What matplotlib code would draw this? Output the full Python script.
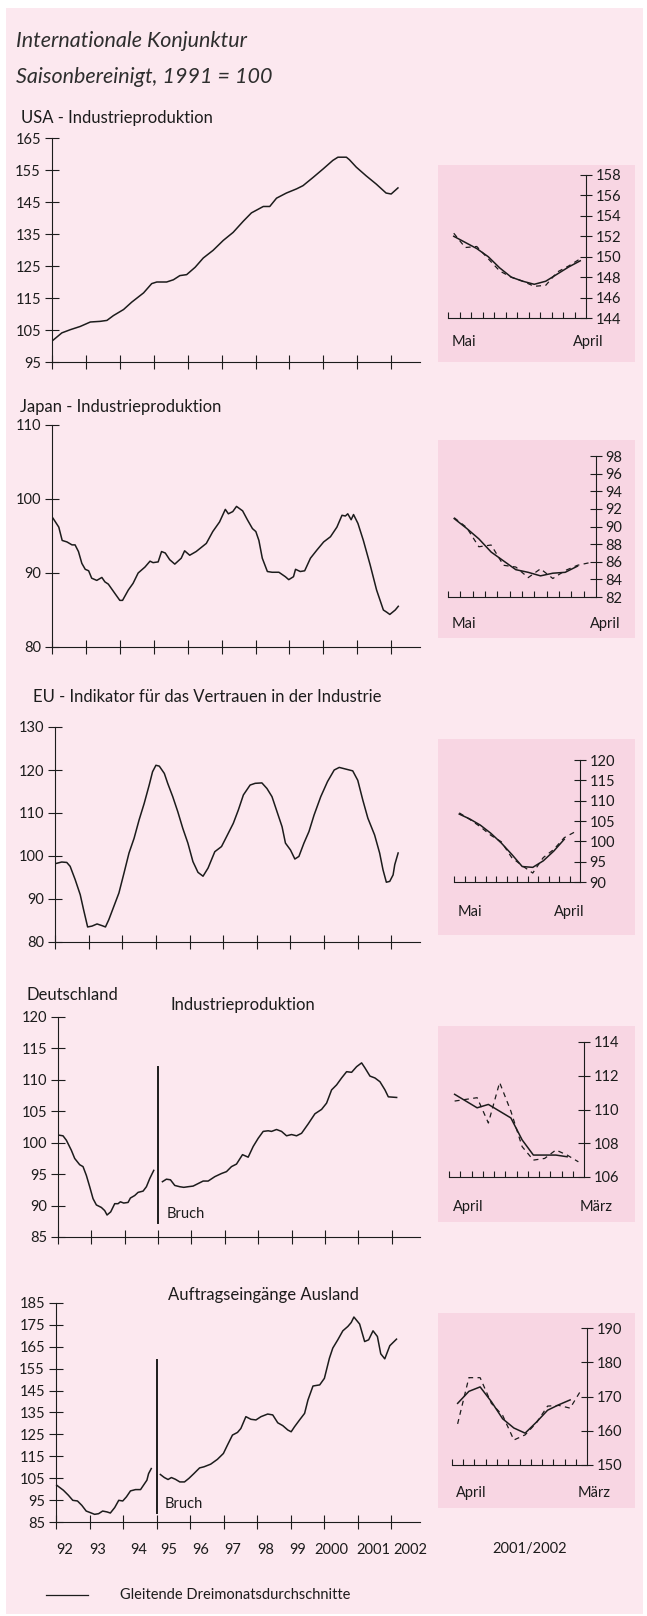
import numpy as np
import matplotlib.pyplot as plt
from matplotlib.patches import Rectangle

plt.rcParams['font.family'] = ['Lato', 'DejaVu Sans']

# ---- Daten (Monatswerte) ----
usa_x = [1992.03, 1992.29, 1992.54, 1992.83, 1993.13, 1993.42, 1993.62, 1993.81, 1994.11, 1994.35,
         1994.70, 1994.94, 1995.09, 1995.38, 1995.58, 1995.77, 1995.97, 1996.22, 1996.46, 1996.75,
         1997.05, 1997.34, 1997.64, 1997.88, 1998.23, 1998.42, 1998.62, 1998.91, 1999.21, 1999.40,
         1999.70, 1999.99, 2000.28, 2000.43, 2000.68, 2000.77, 2000.97, 2001.26, 2001.56, 2001.85,
         2002.00, 2002.20]
usa_y = [101.8, 104.1, 105.1, 106.1, 107.5, 107.7, 108.0, 109.5, 111.4, 113.7,
         116.6, 119.5, 120.0, 120.0, 120.7, 122.0, 122.3, 124.6, 127.5, 129.9,
         133.0, 135.5, 139.0, 141.6, 143.6, 143.6, 146.2, 147.8, 149.1, 150.1,
         152.7, 155.3, 158.0, 159.0, 159.0, 158.2, 155.9, 153.2, 150.6, 147.8,
         147.5, 149.4]

jap_x = [1992.03, 1992.2, 1992.3, 1992.44, 1992.59, 1992.68, 1992.78, 1992.88, 1992.98, 1993.08,
         1993.17, 1993.32, 1993.47, 1993.56, 1993.66, 1993.86, 1994.0, 1994.08, 1994.25, 1994.39,
         1994.54, 1994.74, 1994.89, 1994.98, 1995.13, 1995.23, 1995.34, 1995.47, 1995.62, 1995.81,
         1995.91, 1996.06, 1996.25, 1996.55, 1996.74, 1996.94, 1997.11, 1997.2, 1997.33, 1997.44,
         1997.62, 1997.76, 1997.91, 1998.01, 1998.1, 1998.2, 1998.35, 1998.49, 1998.69, 1998.88,
         1998.98, 1999.12, 1999.18, 1999.32, 1999.45, 1999.62, 1999.81, 2000.01, 2000.21, 2000.4,
         2000.55, 2000.65, 2000.72, 2000.82, 2000.89, 2001.02, 2001.18, 2001.38, 2001.57, 2001.77,
         2001.87, 2001.96, 2002.12, 2002.21]
jap_y = [97.4, 96.2, 94.4, 94.2, 93.8, 93.8, 92.9, 91.3, 90.5, 90.3,
         89.3, 89.0, 89.4, 88.8, 88.5, 87.2, 86.3, 86.3, 87.7, 88.6,
         90.0, 90.8, 91.6, 91.4, 91.5, 92.9, 92.7, 91.8, 91.2, 92.0,
         93.0, 92.4, 92.9, 94.0, 95.6, 96.9, 98.6, 98.0, 98.3, 99.0,
         98.4, 97.2, 96.0, 95.6, 94.4, 92.0, 90.2, 90.1, 90.1, 89.5,
         89.1, 89.5, 90.5, 90.2, 90.3, 92.0, 93.1, 94.2, 94.9, 96.2,
         97.8, 97.7, 98.0, 97.2, 97.9, 96.7, 94.4, 91.1, 87.7, 85.0,
         84.7, 84.4, 85.0, 85.5]

eu_x = [1992.05, 1992.2, 1992.35, 1992.45, 1992.6, 1992.75, 1992.85, 1992.97, 1993.1, 1993.25,
        1993.4, 1993.5, 1993.6, 1993.75, 1993.9, 1994.05, 1994.2, 1994.35, 1994.5, 1994.65,
        1994.8, 1994.9, 1995.0, 1995.1, 1995.25, 1995.35, 1995.5, 1995.65, 1995.8, 1995.95,
        1996.1, 1996.25, 1996.4, 1996.55, 1996.75, 1996.95, 1997.1, 1997.3, 1997.45, 1997.6,
        1997.8, 1997.95, 1998.15, 1998.3, 1998.45, 1998.6, 1998.75, 1998.85, 1999.0, 1999.13,
        1999.25, 1999.4, 1999.55, 1999.7, 1999.9, 2000.1, 2000.3, 2000.45, 2000.65, 2000.85,
        2001.0, 2001.15, 2001.3, 2001.5, 2001.65, 2001.75, 2001.85, 2001.95, 2002.05, 2002.1,
        2002.2]
eu_y = [98.3, 98.6, 98.5, 97.6, 94.5, 91.0, 87.5, 83.5, 83.7, 84.2,
        83.8, 83.5, 85.2, 88.3, 91.4, 96.0, 100.7, 104.1, 108.4, 112.2,
        116.5, 119.6, 121.1, 120.9, 119.2, 116.9, 113.8, 110.3, 106.4, 103.0,
        98.7, 96.2, 95.3, 97.2, 101.0, 102.2, 104.5, 107.6, 110.7, 114.2,
        116.5, 116.9, 117.0, 115.7, 113.8, 110.3, 106.8, 103.0, 101.4, 99.3,
        99.9, 103.0, 105.7, 109.5, 113.8, 117.3, 120.0, 120.6, 120.2, 119.8,
        117.6, 113.0, 108.8, 104.9, 100.7, 96.8, 93.9, 94.1, 95.6, 98.0,
        100.7]

# Deutschland, Industrieproduktion: vor und nach dem Bruch
de1_x = [1992.03, 1992.15, 1992.25, 1992.4, 1992.5, 1992.65, 1992.75, 1992.85, 1992.95, 1993.05,
         1993.15, 1993.3, 1993.4, 1993.47, 1993.58, 1993.7, 1993.8, 1993.87, 1993.97, 1994.1,
         1994.17, 1994.3, 1994.4, 1994.55, 1994.65, 1994.75, 1994.87]
de1_y = [101.2, 101.1, 100.4, 98.8, 97.5, 96.5, 96.2, 94.8, 93.0, 91.1,
         90.1, 89.7, 89.2, 88.5, 89.0, 90.3, 90.3, 90.6, 90.4, 90.5,
         91.2, 91.6, 92.1, 92.3, 93.0, 94.3, 95.6]
de2_x = [1995.13, 1995.25, 1995.37, 1995.5, 1995.65, 1995.77, 1995.9, 1996.05, 1996.2, 1996.35,
         1996.5, 1996.7, 1996.9, 1997.05, 1997.2, 1997.35, 1997.53, 1997.7, 1997.85, 1998.0,
         1998.15, 1998.3, 1998.4, 1998.55, 1998.7, 1998.85, 1999.0, 1999.15, 1999.3, 1999.5,
         1999.7, 1999.9, 2000.05, 2000.2, 2000.35, 2000.5, 2000.65, 2000.8, 2000.95, 2001.1,
         2001.2, 2001.35, 2001.5, 2001.65, 2001.8, 2001.9, 2002.15]
de2_y = [93.8, 94.2, 94.1, 93.2, 93.0, 92.9, 93.0, 93.1, 93.5, 93.9,
         93.9, 94.6, 95.1, 95.4, 96.2, 96.6, 98.1, 97.7, 99.4, 100.7,
         101.8, 101.9, 101.8, 102.1, 101.8, 101.1, 101.3, 101.1, 101.5, 103.0,
         104.6, 105.3, 106.3, 108.4, 109.2, 110.3, 111.3, 111.2, 112.1, 112.7,
         111.9, 110.6, 110.3, 109.7, 108.4, 107.3, 107.2]

# Deutschland, Auftragseingänge Ausland
ae1_x = [1992.02, 1992.22, 1992.37, 1992.5, 1992.64, 1992.77, 1992.9, 1993.02, 1993.15, 1993.27,
         1993.39, 1993.52, 1993.62, 1993.75, 1993.87, 1993.99, 1994.1, 1994.22, 1994.37, 1994.52,
         1994.63, 1994.71, 1994.76, 1994.84]
ae1_y = [101.8, 99.5, 97.2, 94.9, 94.6, 92.6, 90.0, 89.3, 88.5, 88.8,
         90.0, 89.6, 89.1, 91.6, 94.9, 94.6, 96.5, 99.2, 99.8, 99.8,
         102.3, 104.1, 107.1, 109.4]
ae2_x = [1995.11, 1995.23, 1995.34, 1995.44, 1995.56, 1995.69, 1995.83, 1995.96, 1996.11, 1996.28,
         1996.41, 1996.61, 1996.81, 1996.99, 1997.11, 1997.26, 1997.41, 1997.51, 1997.66, 1997.81,
         1997.96, 1998.11, 1998.31, 1998.46, 1998.61, 1998.76, 1998.91, 1999.01, 1999.11, 1999.26,
         1999.41, 1999.51, 1999.66, 1999.86, 2000.0, 2000.15, 2000.25, 2000.4, 2000.55, 2000.7,
         2000.8, 2000.88, 2001.05, 2001.2, 2001.32, 2001.45, 2001.58, 2001.68, 2001.8, 2001.95,
         2002.15]
ae2_y = [106.7, 105.3, 104.4, 105.3, 104.5, 103.3, 103.3, 104.9, 107.1, 109.7,
         110.2, 111.4, 113.6, 116.3, 120.1, 124.7, 125.9, 127.7, 133.1, 131.9,
         131.6, 133.1, 134.3, 133.9, 130.3, 129.0, 127.0, 126.2, 128.5, 131.6,
         134.6, 140.7, 147.1, 147.6, 150.6, 159.8, 164.4, 168.2, 172.3, 174.3,
         176.1, 178.6, 175.4, 167.4, 168.2, 172.3, 169.7, 161.8, 159.5, 165.5,
         168.5]

# Kleine Grafiken 2001/2002: Monatswerte (gestrichelt) und gleitende Dreimonatsdurchschnitte
usa_m = [152.3, 150.9, 151.0, 149.8, 148.6, 148.0, 147.6, 147.1, 147.2, 148.5, 149.1, 149.8]
usa_g = [152.0, 151.4, 150.8, 150.0, 148.9, 148.0, 147.6, 147.3, 147.6, 148.3, 149.0, 149.6]
jap_m = [91.0, 89.9, 87.7, 87.9, 85.6, 85.4, 84.2, 85.2, 84.1, 85.0, 85.6, 85.9]
jap_g = [90.9, 89.8, 88.6, 87.1, 86.1, 85.1, 84.8, 84.4, 84.7, 84.8, 85.5]
eu_m = [107.0, 105.4, 103.6, 101.5, 99.9, 96.0, 94.0, 92.2, 96.0, 98.0, 100.9, 102.3]
eu_g = [106.7, 105.5, 104.0, 102.0, 99.6, 96.8, 93.8, 93.6, 95.2, 97.6, 100.5]
de_m = [110.5, 110.6, 110.7, 109.2, 111.6, 109.9, 107.8, 107.0, 107.1, 107.6, 107.3, 106.9]
de_g = [110.9, 110.5, 110.1, 110.3, 109.9, 109.5, 108.2, 107.3, 107.3, 107.3, 107.2]
ae_m = [162.0, 175.5, 175.5, 168.0, 164.5, 157.3, 158.8, 162.3, 167.2, 167.4, 166.6, 172.0]
ae_g = [168.0, 171.5, 172.8, 168.5, 163.5, 160.8, 159.3, 162.5, 166.0, 167.6, 169.0]

year_labels = ['92', '93', '94', '95', '96', '97', '98', '99', '2000', '2001', '2002']
year_label_pos = [1992.25, 1993.25, 1994.45, 1995.35, 1996.3, 1997.27, 1998.26, 1999.19, 2000.22, 2001.45, 2002.55]

W, H = 647, 1616
BG = '#fce8ef'
INSET_BG = '#f8d6e3'
INK = '#1c1c1c'

fig = plt.figure(figsize=(W / 100, H / 100), dpi=100)
fig.patch.set_facecolor('white')


def frac(l, t, r, b):
    return [l / W, 1 - b / H, (r - l) / W, (b - t) / H]


def ftext(x, y, s, **kw):
    kw.setdefault('color', INK)
    kw.setdefault('va', 'center')
    fig.text(x / W, 1 - y / H, s, **kw)


def rect(l, t, r, b, color):
    fig.patches.append(Rectangle((l / W, 1 - b / H), (r - l) / W, (b - t) / H,
                                 transform=fig.transFigure, color=color, zorder=-10, lw=0))


rect(6, 8, 643, 1614, BG)


def main_panel(box, ylim, yticks, segments, bruch=None):
    ax = fig.add_axes(frac(*box))
    ax.set_facecolor('none')
    ax.set_xlim(1992, 2002.85)
    ax.set_ylim(*ylim)
    for sp in ['top', 'right']:
        ax.spines[sp].set_visible(False)
    for sp in ['left', 'bottom']:
        ax.spines[sp].set_linewidth(0.8)
        ax.spines[sp].set_color(INK)
    ax.set_yticks(yticks)
    ax.set_xticks(range(1992, 2003))
    ax.set_xticklabels([])
    ax.tick_params(direction='inout', length=10, width=0.8, colors=INK, labelsize=10.5, pad=3)
    for xs, ys in segments:
        ax.plot(xs, ys, color=INK, lw=1.1, clip_on=False)
    if bruch:
        ax.plot([1995, 1995], bruch, color=INK, lw=1.4)
        ax.text(1995.25, bruch[1] + 0.04 * (ylim[1] - ylim[0]), 'Bruch', fontsize=10.5,
                color=INK, va='center')
    return ax


def inset(bg, box, ylim, yticks, monthly, avg, lbl_left, lbl_right, lbl_y, lbl_r_x):
    rect(*bg, INSET_BG)
    ax = fig.add_axes(frac(*box))
    ax.set_facecolor('none')
    ax.set_xlim(0, 12)
    ax.set_ylim(*ylim)
    for sp in ['top', 'left']:
        ax.spines[sp].set_visible(False)
    for sp in ['right', 'bottom']:
        ax.spines[sp].set_linewidth(0.8)
        ax.spines[sp].set_color(INK)
    ax.yaxis.tick_right()
    ax.set_yticks(yticks)
    ax.set_xticks(range(12))
    ax.set_xticklabels([])
    ax.tick_params(axis='y', direction='inout', length=8, width=0.8, colors=INK,
                   labelsize=10.5, pad=3)
    ax.tick_params(axis='x', direction='in', length=4, width=0.8, colors=INK)
    ax.plot(np.arange(len(monthly)) + 0.5, monthly, color=INK, lw=0.9, ls=(0, (4, 3.5)))
    ax.plot(np.arange(len(avg)) + 0.5, avg, color=INK, lw=1.1)
    ftext(box[0] + 4, lbl_y, lbl_left, fontsize=10.5)
    ftext(lbl_r_x, lbl_y, lbl_right, fontsize=10.5, ha='right')
    return ax


ftext(16, 41, 'Internationale Konjunktur', fontsize=15.5, style='italic', color='#2e2e2e')
ftext(16, 77, 'Saisonbereinigt, 1991 = 100', fontsize=15.5, style='italic', color='#2e2e2e')

# USA
ftext(21, 118, 'USA - Industrieproduktion', fontsize=12)
main_panel((52, 138, 420, 362), (95, 165), range(95, 166, 10), [(usa_x, usa_y)])
inset((438, 165, 635, 362), (448, 175, 586, 318), (144, 158), range(144, 159, 2),
      usa_m, usa_g, 'Mai', 'April', 342, 603)

# Japan
ftext(20, 407, 'Japan - Industrieproduktion', fontsize=12)
main_panel((52, 425, 420, 647), (80, 110), range(80, 111, 10), [(jap_x, jap_y)])
inset((438, 440, 635, 638), (448, 456, 596, 597), (82, 98), range(82, 99, 2),
      jap_m, jap_g, 'Mai', 'April', 624, 620)

# EU
ftext(33, 697, 'EU - Indikator für das Vertrauen in der Industrie', fontsize=12)
main_panel((55, 727, 420, 942), (80, 130), range(80, 131, 10), [(eu_x, eu_y)])
inset((438, 739, 635, 935), (454, 760, 580, 882), (90, 120), range(90, 121, 5),
      eu_m, eu_g, 'Mai', 'April', 912, 584)

# Deutschland
ftext(26, 995, 'Deutschland', fontsize=12)
ftext(243, 1005, 'Industrieproduktion', fontsize=12, ha='center')
main_panel((58, 1017, 420, 1237), (85, 120), range(85, 121, 5),
           [(de1_x, de1_y), (de2_x, de2_y)], bruch=(112, 87.3))
inset((438, 1026, 635, 1222), (449, 1042, 584, 1177), (106, 114), range(106, 115, 2),
      de_m, de_g, 'April', 'März', 1207, 613)

# Auftragseingänge
ftext(263, 1295, 'Auftragseingänge Ausland', fontsize=12, ha='center')
ax = main_panel((56, 1303, 420, 1522), (85, 185), range(85, 186, 10),
                [(ae1_x, ae1_y), (ae2_x, ae2_y)], bruch=(159, 89))
inset((438, 1313, 635, 1508), (452, 1328, 587, 1465), (150, 190), range(150, 191, 10),
      ae_m, ae_g, 'April', 'März', 1493, 611)

for pos, lab in zip(year_label_pos, year_labels):
    ax.text(pos, 85 - 0.13 * 100, lab, fontsize=10.5, color=INK, ha='center', va='center')

ftext(530, 1549, '2001/2002', fontsize=10.5, ha='center')

# Legende
fig.add_artist(plt.Line2D([46 / W, 88 / W], [1 - 1595 / H, 1 - 1595 / H], color=INK, lw=0.9))
ftext(120, 1595, 'Gleitende Dreimonatsdurchschnitte', fontsize=10.5)

fig.savefig('out.png', dpi=100, facecolor='white')
